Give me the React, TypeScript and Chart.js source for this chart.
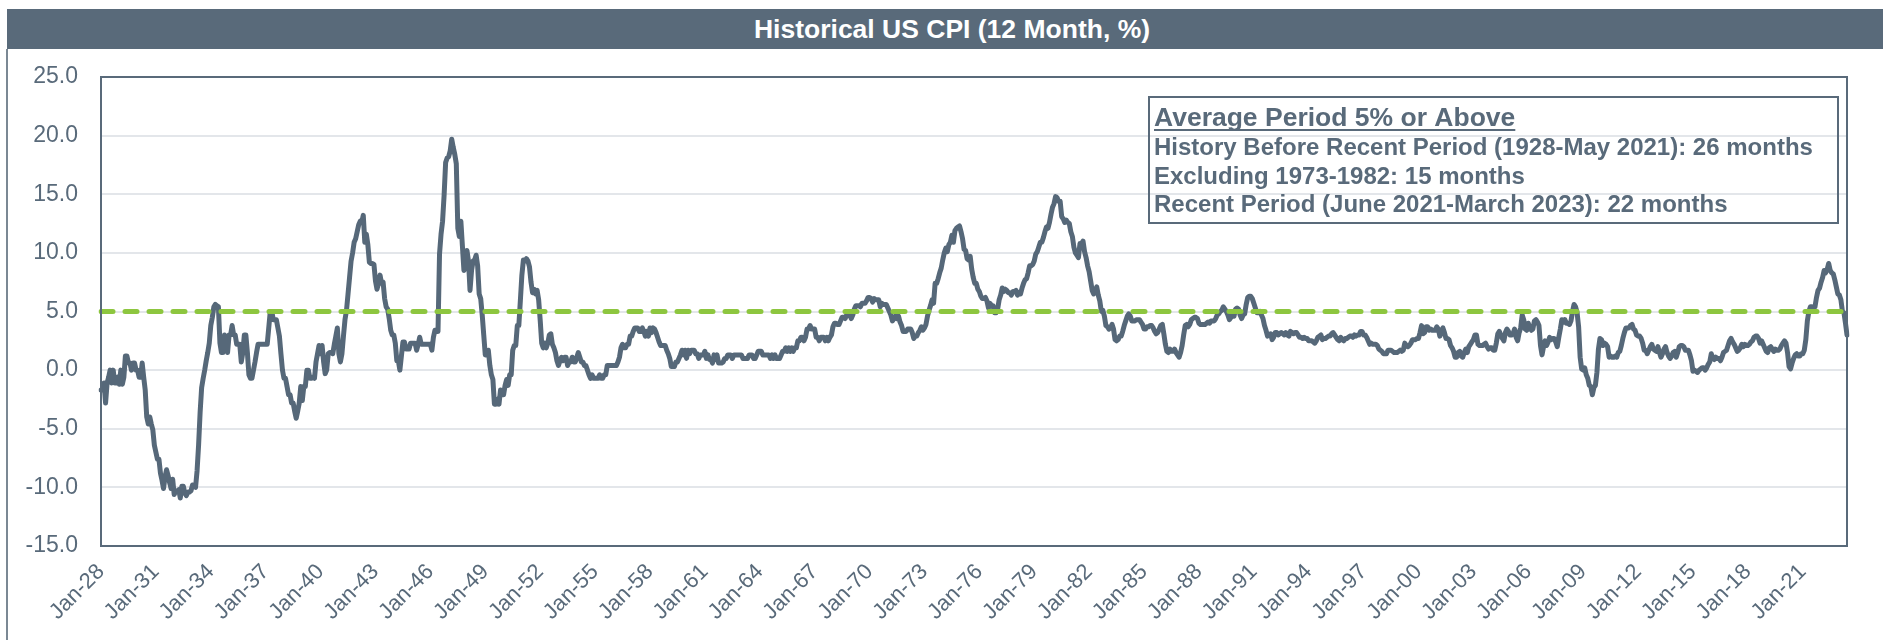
import React, { useEffect, useRef } from 'react';
import { Chart, registerables } from 'chart.js';

Chart.register(...registerables);

// ---------- data (12-month % change of US CPI, monthly, Jan 1928 - Jun 2023) ----------
const FIRST_YEAR = 1928;
const MONTHS = ['Jan', 'Feb', 'Mar', 'Apr', 'May', 'Jun', 'Jul', 'Aug', 'Sep', 'Oct', 'Nov', 'Dec'];

const cpi1928to1939 = [
  -1.7, -1.7, -1.1, -2.8, -1.1, -0.6, 0.0, -1.1, 0.0, -1.1, -1.1, -0.6,
  -1.2, 0.0, -1.2, -0.6, 1.2, 1.2, 0.6, 0.6, 0.0, 0.6, 0.6, 0.0,
  0.0, -0.6, -0.6, 0.6, -0.6, -1.7, -4.0, -4.6, -4.0, -4.6, -5.1, -6.4,
  -7.0, -7.6, -7.6, -8.8, -9.4, -10.1, -9.1, -8.5, -9.0, -9.6, -10.1, -9.3,
  -10.6, -10.3, -10.3, -10.2, -10.9, -9.9, -9.9, -10.5, -10.7, -10.4, -10.4, -10.3,
  -9.8, -9.9, -10.0, -8.6, -6.4, -3.6, -1.5, -0.7, 0.0, 0.8, 1.5, 2.3,
  3.8, 4.5, 5.4, 5.6, 5.5, 5.4, 2.3, 1.5, 1.5, 3.0, 2.3, 1.5,
  3.0, 3.0, 3.8, 3.0, 3.0, 2.2, 2.2, 2.2, 0.7, 1.5, 3.0, 3.0,
  1.5, -0.4, -0.7, -0.7, 0.0, 0.7, 1.5, 2.2, 2.2, 2.2, 2.2, 2.2,
  2.2, 2.2, 3.6, 5.0, 5.0, 4.3, 4.3, 4.3, 3.6, 2.9, 1.4, 0.0,
  -0.7, -0.7, -1.4, -2.1, -2.1, -2.8, -2.8, -3.5, -4.1, -3.5, -2.8, -1.4,
  -2.6, -1.4, -1.4, 0.0, 0.0, -0.7, -0.7, -0.6, -0.7, 0.7, 1.4, 2.1,
];

const cpi1940s = [
  1.4, 2.1, 0.7, -0.3, 0.0, 1.4, 1.5, 1.5, 1.4, 2.2, 2.9, 3.6,
  1.4, 0.7, 1.4, 2.9, 4.3, 5.1, 6.5, 7.9, 9.3, 10.0, 10.9, 11.2,
  11.8, 12.4, 12.7, 12.6, 13.2, 10.9, 11.6, 10.7, 9.2, 9.1, 9.1, 9.0,
  7.6, 6.9, 7.4, 8.1, 7.4, 7.5, 6.1, 5.4, 5.2, 4.4, 3.4, 3.0,
  3.0, 2.3, 0.8, 0.8, 0.0, 1.2, 2.4, 2.4, 1.8, 1.8, 1.8, 2.3,
  2.3, 2.3, 2.3, 1.7, 2.2, 2.8, 2.2, 2.2, 2.2, 2.2, 2.2, 2.2,
  2.2, 1.7, 2.8, 3.4, 3.3, 3.3, 9.9, 11.6, 12.7, 14.9, 17.7, 18.1,
  18.2, 18.7, 19.7, 19.0, 18.4, 17.6, 12.1, 11.4, 12.7, 10.6, 8.5, 8.8,
  10.2, 9.3, 6.8, 8.5, 9.3, 9.4, 9.8, 8.9, 6.5, 6.1, 4.7, 3.0,
  1.3, 1.3, 1.7, 0.4, -0.4, -0.8, -2.9, -2.9, -2.5, -2.9, -1.7, -2.1,
];

const cpi1950s = [
  -2.1, -1.3, -0.8, -1.3, -0.4, -0.4, 1.7, 2.1, 2.1, 3.8, 3.8, 5.9,
  8.1, 9.4, 9.3, 9.5, 9.3, 8.8, 7.5, 6.6, 6.9, 6.5, 6.8, 6.0,
  4.3, 2.3, 1.9, 2.3, 1.9, 2.3, 3.0, 3.1, 2.2, 1.9, 1.5, 0.8,
  0.4, 0.8, 1.1, 0.8, 1.1, 1.1, 0.4, 0.7, 0.7, 1.1, 0.7, 0.7,
  1.1, 1.5, 1.1, 0.7, 0.7, 0.4, 0.4, 0.0, -0.4, -0.7, -0.4, -0.7,
  -0.7, -0.7, -0.7, -0.4, -0.7, -0.7, -0.4, -0.4, 0.4, 0.4, 0.4, 0.4,
  0.4, 0.4, 0.4, 0.7, 1.1, 1.9, 2.2, 1.9, 1.9, 2.2, 2.2, 2.9,
  2.9, 3.3, 3.6, 3.6, 3.6, 3.3, 3.3, 3.6, 3.3, 2.9, 3.3, 2.9,
  3.6, 3.2, 3.6, 3.5, 3.2, 2.8, 2.4, 2.1, 2.1, 2.1, 2.1, 1.7,
  1.4, 1.0, 0.3, 0.3, 0.3, 0.7, 0.7, 1.0, 1.3, 1.7, 1.3, 1.7,
];

const cpi1960s = [
  1.0, 1.7, 1.4, 1.7, 1.7, 1.7, 1.4, 1.4, 1.0, 1.3, 1.3, 1.3,
  1.6, 1.0, 1.3, 0.9, 0.9, 0.6, 1.3, 0.9, 1.3, 0.6, 0.6, 0.6,
  0.7, 1.0, 1.0, 1.3, 1.3, 1.3, 1.0, 1.3, 1.3, 1.3, 1.3, 1.3,
  1.3, 1.0, 1.0, 1.0, 1.0, 1.3, 1.3, 1.3, 1.0, 1.0, 1.3, 1.6,
  1.6, 1.6, 1.3, 1.3, 1.3, 1.3, 1.3, 1.0, 1.3, 1.0, 1.3, 1.0,
  1.0, 1.0, 1.3, 1.6, 1.6, 1.9, 1.6, 1.9, 1.6, 1.9, 1.6, 1.9,
  1.9, 2.5, 2.5, 2.8, 2.8, 2.5, 2.8, 3.5, 3.5, 3.8, 3.5, 3.5,
  3.5, 2.8, 2.8, 2.5, 2.8, 2.8, 2.8, 2.5, 2.8, 2.5, 2.8, 3.0,
  3.7, 4.0, 4.0, 3.9, 3.9, 4.2, 4.5, 4.5, 4.4, 4.7, 4.8, 4.7,
  4.4, 4.7, 5.2, 5.5, 5.5, 5.5, 5.4, 5.7, 5.7, 5.7, 5.9, 6.2,
];

const cpi1970s = [
  6.2, 6.1, 5.8, 6.1, 6.0, 6.0, 6.0, 5.4, 5.7, 5.6, 5.6, 5.6,
  5.3, 5.0, 4.7, 4.2, 4.4, 4.6, 4.4, 4.6, 4.1, 3.8, 3.3, 3.3,
  3.3, 3.5, 3.5, 3.5, 3.2, 2.7, 2.9, 2.9, 3.2, 3.4, 3.7, 3.4,
  3.6, 3.9, 4.6, 5.1, 5.5, 6.0, 5.7, 7.4, 7.4, 7.8, 8.3, 8.7,
  9.4, 10.0, 10.4, 10.1, 10.7, 10.9, 11.5, 10.9, 11.9, 12.1, 12.2, 12.3,
  11.8, 11.2, 10.3, 10.2, 9.5, 9.4, 9.7, 8.6, 7.9, 7.4, 7.4, 6.9,
  6.7, 6.3, 6.1, 6.1, 6.2, 5.9, 5.3, 5.7, 5.5, 5.5, 4.9, 4.9,
  5.2, 6.0, 6.4, 7.0, 6.7, 6.9, 6.8, 6.6, 6.6, 6.4, 6.7, 6.7,
  6.8, 6.4, 6.6, 6.5, 7.0, 7.4, 7.7, 7.8, 8.3, 8.9, 8.9, 9.0,
  9.3, 9.9, 10.1, 10.5, 10.9, 10.9, 11.3, 11.8, 12.2, 12.1, 12.6, 13.3,
];

const cpi1980s = [
  13.9, 14.2, 14.8, 14.7, 14.4, 14.4, 13.1, 12.9, 12.6, 12.8, 12.6, 12.5,
  11.8, 11.4, 10.5, 10.0, 9.8, 9.6, 10.8, 10.8, 11.0, 10.1, 9.6, 8.9,
  8.4, 7.6, 6.8, 6.5, 6.7, 7.1, 6.4, 5.9, 5.0, 5.1, 4.6, 3.8,
  3.7, 3.5, 3.6, 3.9, 3.5, 2.6, 2.5, 2.6, 2.9, 2.9, 3.3, 3.8,
  4.2, 4.6, 4.8, 4.6, 4.2, 4.2, 4.2, 4.3, 4.3, 4.3, 4.1, 3.9,
  3.5, 3.5, 3.7, 3.7, 3.8, 3.8, 3.6, 3.3, 3.1, 3.2, 3.5, 3.8,
  3.9, 3.1, 2.2, 1.6, 1.5, 1.8, 1.6, 1.6, 1.8, 1.5, 1.3, 1.1,
  1.5, 2.1, 3.0, 3.8, 3.9, 3.7, 3.9, 4.3, 4.4, 4.5, 4.5, 4.4,
  4.0, 3.9, 3.9, 3.9, 3.9, 4.0, 4.1, 4.0, 4.2, 4.2, 4.2, 4.4,
  4.7, 4.8, 5.0, 5.1, 5.4, 5.2, 5.0, 4.7, 4.3, 4.5, 4.7, 4.6,
];

const cpi1990s = [
  5.2, 5.3, 5.2, 4.7, 4.4, 4.7, 4.8, 5.6, 6.2, 6.3, 6.3, 6.1,
  5.7, 5.3, 4.9, 4.9, 5.0, 4.7, 4.4, 3.8, 3.4, 2.9, 3.0, 3.1,
  2.6, 2.8, 3.2, 3.2, 3.0, 3.1, 3.2, 3.1, 3.0, 3.2, 3.0, 2.9,
  3.3, 3.2, 3.1, 3.2, 3.2, 3.0, 2.8, 2.8, 2.7, 2.8, 2.7, 2.7,
  2.5, 2.5, 2.5, 2.4, 2.3, 2.5, 2.8, 2.9, 3.0, 2.6, 2.7, 2.7,
  2.8, 2.9, 2.9, 3.1, 3.2, 3.0, 2.8, 2.6, 2.5, 2.8, 2.6, 2.5,
  2.7, 2.7, 2.8, 2.9, 2.9, 2.8, 3.0, 2.9, 3.0, 3.0, 3.3, 3.3,
  3.0, 3.0, 2.8, 2.5, 2.2, 2.3, 2.2, 2.2, 2.2, 2.1, 1.8, 1.7,
  1.6, 1.4, 1.4, 1.4, 1.7, 1.7, 1.7, 1.6, 1.5, 1.5, 1.5, 1.6,
  1.7, 1.6, 1.7, 2.3, 2.1, 2.0, 2.1, 2.3, 2.6, 2.6, 2.6, 2.7,
];

const cpi2000s = [
  2.7, 3.2, 3.8, 3.1, 3.2, 3.7, 3.7, 3.4, 3.5, 3.4, 3.4, 3.4,
  3.7, 3.5, 2.9, 3.3, 3.6, 3.2, 2.7, 2.7, 2.6, 2.1, 1.9, 1.6,
  1.1, 1.1, 1.5, 1.6, 1.2, 1.1, 1.5, 1.8, 1.5, 2.0, 2.2, 2.4,
  2.6, 3.0, 3.0, 2.2, 2.1, 2.1, 2.1, 2.2, 2.3, 2.0, 1.8, 1.9,
  1.9, 1.7, 1.7, 2.3, 3.1, 3.3, 3.0, 2.7, 2.5, 3.2, 3.5, 3.3,
  3.0, 3.0, 3.1, 3.5, 2.8, 2.5, 3.2, 3.6, 4.7, 4.3, 3.5, 3.4,
  4.0, 3.6, 3.4, 3.5, 4.2, 4.3, 4.1, 3.8, 2.1, 1.3, 2.0, 2.5,
  2.1, 2.4, 2.8, 2.6, 2.7, 2.7, 2.4, 2.0, 2.8, 3.5, 4.3, 4.1,
  4.3, 4.0, 4.0, 3.9, 4.2, 5.0, 5.6, 5.4, 4.9, 3.7, 1.1, 0.1,
  0.0, 0.2, -0.4, -0.7, -1.3, -1.4, -2.1, -1.5, -1.3, -0.2, 1.8, 2.7,
];

const cpi2010s = [
  2.6, 2.1, 2.3, 2.2, 2.0, 1.1, 1.2, 1.1, 1.1, 1.2, 1.1, 1.5,
  1.6, 2.1, 2.7, 3.2, 3.6, 3.6, 3.6, 3.8, 3.9, 3.5, 3.4, 3.0,
  2.9, 2.9, 2.7, 2.3, 1.7, 1.7, 1.4, 1.7, 2.0, 2.2, 1.8, 1.7,
  1.6, 2.0, 1.5, 1.1, 1.4, 1.8, 2.0, 1.5, 1.2, 1.0, 1.2, 1.5,
  1.6, 1.1, 1.5, 2.0, 2.1, 2.1, 2.0, 1.7, 1.7, 1.7, 1.3, 0.8,
  -0.1, 0.0, -0.1, -0.2, 0.0, 0.1, 0.2, 0.2, 0.0, 0.2, 0.5, 0.7,
  1.4, 1.0, 0.9, 1.1, 1.0, 1.0, 0.8, 1.1, 1.5, 1.6, 1.7, 2.1,
  2.5, 2.7, 2.4, 2.2, 1.9, 1.6, 1.7, 1.9, 2.2, 2.0, 2.2, 2.1,
  2.1, 2.2, 2.4, 2.5, 2.8, 2.9, 2.9, 2.7, 2.3, 2.5, 2.2, 1.9,
  1.6, 1.5, 1.9, 2.0, 1.8, 1.6, 1.8, 1.7, 1.7, 1.8, 2.1, 2.3,
];

const cpi2020s = [
  2.5, 2.3, 1.5, 0.3, 0.1, 0.6, 1.0, 1.3, 1.4, 1.2, 1.2, 1.4,
  1.4, 1.7, 2.6, 4.2, 5.0, 5.4, 5.4, 5.3, 5.4, 6.2, 6.8, 7.0,
  7.5, 7.9, 8.5, 8.3, 8.6, 9.1, 8.5, 8.3, 8.2, 7.7, 7.1, 6.5,
  6.4, 6.0, 5.0, 4.9, 4.0, 3.0,
];

const TICK_LABELS = [
  'Jan-28', 'Jan-31', 'Jan-34', 'Jan-37', 'Jan-40', 'Jan-43', 'Jan-46', 'Jan-49',
  'Jan-52', 'Jan-55', 'Jan-58', 'Jan-61', 'Jan-64', 'Jan-67', 'Jan-70', 'Jan-73',
  'Jan-76', 'Jan-79', 'Jan-82', 'Jan-85', 'Jan-88', 'Jan-91', 'Jan-94', 'Jan-97',
  'Jan-00', 'Jan-03', 'Jan-06', 'Jan-09', 'Jan-12', 'Jan-15', 'Jan-18', 'Jan-21',
];

const THRESHOLD = 5;
const Y_MIN = -15;
const Y_MAX = 25;
const Y_STEP = 5;

const TITLE = 'Historical US CPI (12 Month, %)';
const NOTE_HEADING = 'Average Period 5% or Above';
const NOTE_LINES = [
  'History Before Recent Period (1928-May 2021): 26 months',
  'Excluding 1973-1982: 15 months',
  'Recent Period (June 2021-March 2023): 22 months',
];

const CPI = [
  ...cpi1928to1939, ...cpi1940s, ...cpi1950s, ...cpi1960s, ...cpi1970s,
  ...cpi1980s, ...cpi1990s, ...cpi2000s, ...cpi2010s, ...cpi2020s,
];
const CATEGORIES = CPI.map((_, i) => {
  const yr = (FIRST_YEAR + Math.floor(i / 12)) % 100;
  return `${MONTHS[i % 12]}-${String(yr).padStart(2, '0')}`;
});
const TICK_SET = new Set(TICK_LABELS);

// ---------- styling ----------
const SLATE = '#596a7a';
const LINE = '#566879';
const GREEN = '#8dc63f';
const GRID = '#e3e6ea';
const FONT = "'Liberation Sans', Arial, Helvetica, sans-serif";

const CANVAS_W = 1876;
const CANVAS_H = 591;

const framePlugin = {
  id: 'plotFrame',
  afterDatasetsDraw(chart: any) {
    const { ctx, chartArea: a } = chart;
    ctx.save();
    ctx.strokeStyle = SLATE;
    ctx.lineWidth = 2;
    ctx.strokeRect(a.left, a.top, a.right - a.left, a.bottom - a.top);
    ctx.restore();
  },
};

const notePlugin = {
  id: 'noteBox',
  afterDraw(chart: any) {
    const { ctx, chartArea: a } = chart;
    const boxW = 689;
    const boxH = 126;
    const x0 = a.right - 9 - boxW;
    const y0 = a.top + 20;
    ctx.save();
    ctx.strokeStyle = SLATE;
    ctx.lineWidth = 2;
    ctx.strokeRect(x0, y0, boxW, boxH);
    ctx.fillStyle = SLATE;
    ctx.textAlign = 'left';
    ctx.textBaseline = 'alphabetic';
    ctx.font = `bold 26.5px ${FONT}`;
    const tx = x0 + 5;
    ctx.fillText(NOTE_HEADING, tx, y0 + 29);
    const hw = ctx.measureText(NOTE_HEADING).width;
    ctx.fillRect(tx, y0 + 32, hw, 2);
    ctx.font = `bold 24px ${FONT}`;
    const baselines = [58, 86.5, 115];
    NOTE_LINES.forEach((line, i) => ctx.fillText(line, tx, y0 + baselines[i]));
    ctx.restore();
  },
};

function CpiChart() {
  const ref = useRef<HTMLCanvasElement | null>(null);
  useEffect(() => {
    if (!ref.current) return;
    const chart = new Chart(ref.current, {
      type: 'line',
      data: {
        labels: CATEGORIES,
        datasets: [
          {
            label: '5% line',
            data: [
              { x: CATEGORIES[0], y: THRESHOLD },
              { x: CATEGORIES[CATEGORIES.length - 1], y: THRESHOLD },
            ] as any,
            borderColor: GREEN,
            borderWidth: 5,
            borderDash: [12, 12],
            borderCapStyle: 'round',
            pointRadius: 0,
            order: 0,
          },
          {
            label: 'US CPI 12M %',
            data: CPI,
            borderColor: LINE,
            borderWidth: 5,
            borderJoinStyle: 'round',
            borderCapStyle: 'round',
            pointRadius: 0,
            tension: 0,
            order: 1,
          },
        ],
      },
      options: {
        animation: false,
        responsive: false,
        devicePixelRatio: 1,
        layout: { padding: { top: 28, right: 36, left: 0, bottom: 0 } },
        plugins: { legend: { display: false }, tooltip: { enabled: false }, title: { display: false } },
        scales: {
          x: {
            type: 'category',
            offset: false,
            grid: { display: false, drawTicks: false },
            border: { display: false },
            ticks: {
              autoSkip: false,
              minRotation: 45,
              maxRotation: 45,
              padding: 13,
              color: SLATE,
              font: { family: FONT, size: 22 },
              callback: (_v: any, idx: number) => (TICK_SET.has(CATEGORIES[idx]) && idx % 12 === 0 ? CATEGORIES[idx] : ''),
            },
            afterFit: (s: any) => {
              s.height = 94;
            },
          },
          y: {
            min: Y_MIN,
            max: Y_MAX,
            grid: {
              color: GRID,
              lineWidth: 2,
              drawTicks: true,
              tickLength: 23,
              tickColor: 'rgba(0,0,0,0)',
            },
            border: { display: false },
            ticks: {
              stepSize: Y_STEP,
              padding: 0,
              color: SLATE,
              font: { family: FONT, size: 23 },
              callback: (v: any) => Number(v).toFixed(1),
            },
            afterFit: (s: any) => {
              s.width = 94;
            },
          },
        },
      },
      plugins: [framePlugin, notePlugin],
    });
    return () => chart.destroy();
  }, []);
  return <canvas ref={ref} width={CANVAS_W} height={CANVAS_H} style={{ display: 'block' }} />;
}

export default function App() {
  return (
    <div
      style={{
        position: 'absolute',
        left: 0,
        top: 0,
        width: 1883,
        height: 640,
        overflow: 'hidden',
        background: '#ffffff',
        fontFamily: FONT,
      }}
    >
      <div
        style={{
          position: 'absolute',
          left: 7,
          top: 9,
          width: 1876,
          height: 40,
          background: SLATE,
          color: '#ffffff',
          fontWeight: 'bold',
          fontSize: 26.5,
          lineHeight: '40px',
          textAlign: 'center',
          paddingLeft: 14,
          boxSizing: 'border-box',
          whiteSpace: 'nowrap',
        }}
      >
        {TITLE}
      </div>
      <div
        style={{
          position: 'absolute',
          left: 6,
          top: 49,
          width: 0,
          height: 600,
          borderLeft: '2px solid #7b8894',
        }}
      />
      <div style={{ position: 'absolute', left: 7, top: 49 }}>
        <CpiChart />
      </div>
    </div>
  );
}
